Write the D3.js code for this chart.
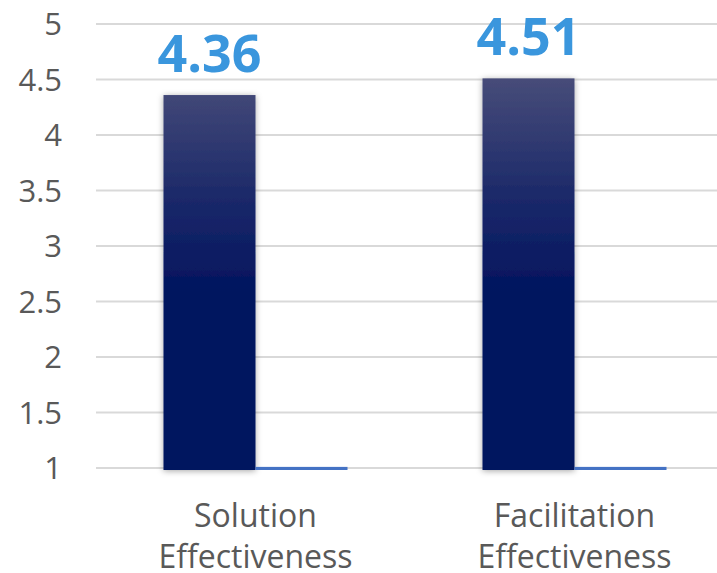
<!DOCTYPE html>
<html>
<head>
<meta charset="utf-8">
<script src="https://cdn.jsdelivr.net/npm/d3@7"></script>
<style>
  html, body { margin: 0; padding: 0; background: #fff; }
  svg { display: block; }
  text { font-family: "Open Sans", sans-serif; }
</style>
</head>
<body>
<div id="chart"></div>
<script>
'use strict';

// ─── Data ─────────────────────────────────────────────────────────────────────
const categories = [['Solution', 'Effectiveness'], ['Facilitation', 'Effectiveness']];
const seriesNames = ['Score', 'Baseline'];
const scores     = [4.36, 4.51];
const baseline   = [1.01, 1.01];
const yTicks     = [1, 1.5, 2, 2.5, 3, 3.5, 4, 4.5, 5];

// ─── Setup ────────────────────────────────────────────────────────────────────
const W = 717, H = 573;
const svg = d3.select('#chart').append('svg').attr('width', W).attr('height', H);

const y = d3.scaleLinear().domain([1, 5]).range([468, 24]);
const catKeys = categories.map(c => c.join(' '));
const x0 = d3.scaleBand().domain(catKeys).range([96, 734]);
const groupW = 184;
const x1 = d3.scaleBand().domain(seriesNames).range([0, groupW]);

const defs = svg.append('defs');
const grad = defs.append('linearGradient')
  .attr('id', 'barGrad').attr('gradientUnits', 'userSpaceOnUse')
  .attr('x1', 0).attr('x2', 0).attr('y1', y(4.51)).attr('y2', y(2.5));
grad.append('stop').attr('offset', '0%').attr('stop-color', '#474c79');
grad.append('stop').attr('offset', '55%').attr('stop-color', '#1a2869');
grad.append('stop').attr('offset', '100%').attr('stop-color', '#00135e');

const shadow = defs.append('filter').attr('id', 'shadow')
  .attr('x', '-20%').attr('y', '-10%').attr('width', '140%').attr('height', '120%');
shadow.append('feDropShadow')
  .attr('dx', 0).attr('dy', 1).attr('stdDeviation', 3)
  .attr('flood-color', '#000').attr('flood-opacity', 0.35);

// ─── Grid + y ticks ───────────────────────────────────────────────────────────
svg.append('g').selectAll('line')
  .data(yTicks).join('line')
  .attr('x1', 96).attr('x2', W)
  .attr('y1', d => y(d)).attr('y2', d => y(d))
  .attr('stroke', '#d9d9d9').attr('stroke-width', 2);

svg.append('g').selectAll('text')
  .data(yTicks).join('text')
  .attr('x', 62).attr('y', d => y(d))
  .attr('dy', '0.36em')
  .attr('text-anchor', 'end')
  .attr('font-size', 31)
  .attr('fill', '#595959')
  .text(d => d);

// ─── Bars ─────────────────────────────────────────────────────────────────────
const groups = svg.append('g').selectAll('g')
  .data(catKeys).join('g')
  .attr('transform', d => `translate(${x0(d) + (x0.bandwidth() - groupW) / 2},0)`);

groups.append('rect')
  .attr('x', x1('Score'))
  .attr('width', x1.bandwidth())
  .attr('y', (d, i) => y(scores[i]))
  .attr('height', (d, i) => y(1) + 2 - y(scores[i]))
  .attr('fill', 'url(#barGrad)')
  .attr('filter', 'url(#shadow)');

groups.append('rect')
  .attr('x', x1('Baseline'))
  .attr('width', x1.bandwidth())
  .attr('y', (d, i) => y(baseline[i]))
  .attr('height', (d, i) => y(1) + 2 - y(baseline[i]))
  .attr('fill', '#4472c4');

groups.append('text')
  .attr('x', x1('Score') + x1.bandwidth() / 2)
  .attr('y', (d, i) => y(scores[i]) - 23)
  .attr('text-anchor', 'middle')
  .attr('font-size', 52)
  .attr('font-weight', 700)
  .attr('fill', '#3a96dd')
  .text((d, i) => scores[i].toFixed(2));

// ─── Category labels ──────────────────────────────────────────────────────────
groups.each(function(d, i) {
  const t = d3.select(this).append('text')
    .attr('text-anchor', 'middle')
    .attr('font-size', 32)
    .attr('fill', '#595959');
  categories[i].forEach((line, j) => {
    t.append('tspan')
      .attr('x', groupW / 2)
      .attr('y', 527 + j * 41)
      .text(line);
  });
});
</script>
</body>
</html>
